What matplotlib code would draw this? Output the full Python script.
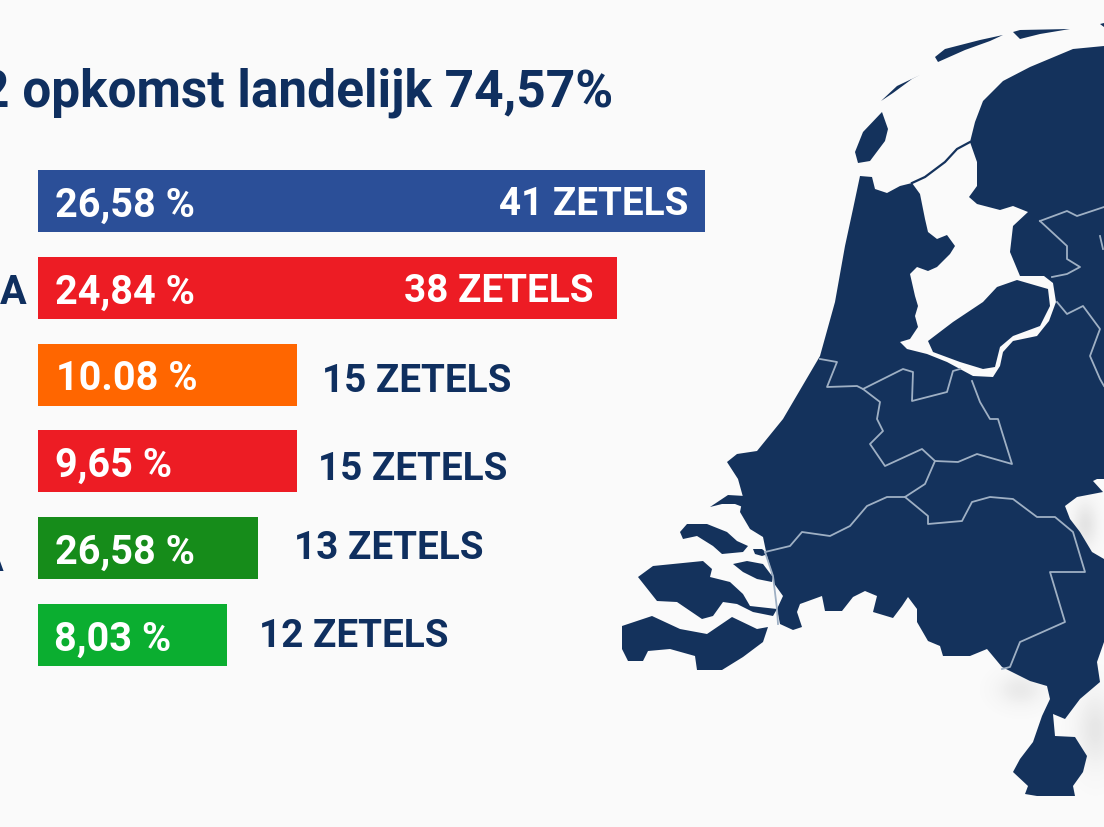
import numpy as np
import matplotlib
matplotlib.use('Agg')
import matplotlib.pyplot as plt
from matplotlib.patches import Polygon

plt.rcParams['font.family'] = ['Roboto', 'DejaVu Sans']

percents = ['26,58 %', '24,84 %', '10.08 %', '9,65 %', '26,58 %', '8,03 %']
seats = ['41 ZETELS', '38 ZETELS', '15 ZETELS', '15 ZETELS', '13 ZETELS', '12 ZETELS']
# bar lengths as measured on the picture, they do not follow the percentages
bar_len = [667, 579, 259, 259, 220, 189]
colors = ['#2b4f98', '#ed1c24', '#ff6600', '#ed1c24', '#168c1a', '#0bae30']
row_y = [201.5, 288.5, 375.5, 461.5, 548.5, 635.5]
pct_x = [55, 55, 56, 55, 55, 54]
seat_x = [688, 594, 322, 318, 294, 259]
seat_y = [201, 288, 378, 466, 545, 633]
seat_ha = ['right', 'right', 'left', 'left', 'left', 'left']
seat_col = ['white', 'white', '#0f2f5f', '#0f2f5f', '#0f2f5f', '#0f2f5f']

NAVY = '#14325c'
LINE = '#9fb0c4'

mainland = [(860,177),(872,178),(875,190),(887,194),(900,187),(912,184),(920,195),(925,220),(928,233),
    (937,240),(947,236),(955,247),(950,255),(937,268),(928,272),(917,268),(910,275),(915,297),(918,307),
    (915,317),(918,328),(910,340),(900,343),(907,350),(927,355),(947,363),(973,377),(993,378),(1000,367),
    (1003,353),(1013,342),(1037,337),(1049,322),(1056,303),(1053,284),(1044,277),(1020,277),(1010,253),
    (1013,227),(1028,213),(1013,207),(1000,211),(977,205),(969,198),(977,187),(977,163),(970,143),(975,123),
    (983,102),(1003,82),(1030,68),(1073,50),(1104,47),(1104,480),(1097,480),(1093,482),(1103,493),(1077,498),
    (1065,507),(1070,520),(1080,533),(1092,553),(1104,560),(1104,643),(1097,663),(1100,683),(1080,700),
    (1065,720),(1053,715),(1055,737),(1075,738),(1087,757),(1083,773),(1073,787),(1075,797),(1037,797),
    (1025,795),(1028,787),(1013,773),(1020,760),(1033,743),(1042,717),(1050,700),(1047,687),(1030,682),
    (1002,668),(987,650),(970,657),(943,657),(940,647),(928,642),(917,623),(917,610),(908,598),(902,607),
    (893,619),(873,613),(877,597),(865,592),(853,598),(842,612),(825,612),(822,597),(800,605),(797,613),
    (802,628),(793,631),(780,625),(777,610),(783,597),(773,583),(770,567),(767,557),(763,538),(750,530),
    (740,513),(743,498),(738,480),(727,463),(737,455),(757,452),(783,420),(820,357),(835,303),(845,247),
    (853,210)]
islands = [
    [(1017,281),(1048,290),(1050,307),(1040,327),(1013,337),(1000,348),(995,368),(983,370),(960,363),(933,353),
     (928,342),(953,323),(983,303),(997,288)],
    [(710,508),(728,496),(745,497),(748,510),(735,505),(722,505)],
    [(680,533),(687,525),(707,525),(727,533),(737,542),(748,547),(743,553),(722,555),(713,547),(697,537),(683,540)],
    [(733,565),(747,562),(763,565),(772,577),(772,583),(757,580),(743,573)],
    [(638,578),(653,567),(703,562),(712,570),(710,578),(730,583),(743,595),(750,607),(777,610),(773,617),(753,613),
     (737,605),(723,603),(713,617),(702,620),(677,603),(657,602)],
    [(622,627),(652,617),(680,630),(707,635),(732,618),(757,630),(768,628),(763,643),(743,658),(722,671),(697,671),
     (695,657),(670,650),(648,652),(643,662),(628,662),(622,650)],
    [(753,550),(762,550),(768,555),(762,557),(755,555)],
    [(882,113),(888,130),(885,142),(870,162),(858,164),(855,153),(863,133)],
    [(881,102),(897,87),(920,76),(912,80),(893,94)],
    [(935,58),(945,50),(980,41),(1003,36),(990,42),(965,51),(938,63)],
    [(1013,33),(1020,31),(1070,30),(1040,35),(1020,40)],
    [(1100,25),(1104,24),(1104,28)],
]
dike = [(912,184),(925,178),(945,163),(957,150),(970,143)]
borders = [
    [(1040,222),(1067,247),(1067,260),(1080,268),(1067,275),(1052,278)],
    [(1040,222),(1067,212),(1077,217),(1104,208)],
    [(1100,237),(1103,250)],
    [(1057,303),(1067,315),(1083,307),(1100,330),(1090,357),(1100,380),(1104,387)],
    [(820,360),(837,363),(827,388),(857,387),(863,390),(903,370),(913,373),(912,402),(947,393),(953,372),(960,370)],
    [(863,390),(880,403),(877,420),(883,432),(870,445),(885,467),(922,450),(935,462),(958,463),(977,455),(1012,465),
     (1002,433),(998,420),(990,420),(980,403),(972,382)],
    [(935,462),(925,485),(905,498),(887,498),(867,507),(850,527),(830,537),(802,533),(790,547),(765,553)],
    [(905,498),(928,517),(928,525),(962,522),(972,503),(990,498),(1013,500),(1037,518),(1055,518),(1073,533),(1085,573),
     (1050,573),(1065,623),(1020,643),(1010,668),(1002,670)],
    [(765,553),(773,577),(777,610),(778,625)],
]

fig = plt.figure(figsize=(11.04, 8.28), dpi=100, facecolor='#fafafa')
ax = fig.add_axes([0, 0, 1, 1])
ax.set_xlim(0, 1104)
ax.set_ylim(828, 0)
ax.axis('off')

# soft grey shadows of the backdrop round the map
xx, yy = np.meshgrid(np.arange(1104), np.arange(828))
shade = np.zeros(xx.shape)
for cx, cy, sx, sy, a in [(1020, 690, 22, 16, .12), (1085, 525, 12, 22, .16), (1095, 730, 18, 35, .14)]:
    shade += a * np.exp(-((xx - cx) / sx) ** 2 - ((yy - cy) / sy) ** 2)
ax.imshow(np.dstack([np.full(xx.shape, .45)] * 3 + [np.clip(shade, 0, 1)]),
          extent=(0, 1104, 828, 0), aspect='auto', zorder=0)

ax.add_patch(Polygon(mainland, closed=True, fc=NAVY, ec='none', zorder=1))
for isl in islands:
    ax.add_patch(Polygon(isl, closed=True, fc=NAVY, ec='none', zorder=1))
ax.plot(*zip(*dike), color=NAVY, lw=1.6, zorder=1)
for b in borders:
    ax.plot(*zip(*b), color=LINE, lw=1.3, zorder=2)

ax.barh(row_y, bar_len, height=62, left=38, color=colors, zorder=3)

for i in range(len(percents)):
    ax.text(pct_x[i], row_y[i], percents[i], color='white', fontsize=28.5, fontweight='bold',
            ha='left', va='center_baseline', zorder=4)
    ax.text(seat_x[i], seat_y[i], seats[i], color=seat_col[i], fontsize=27.8, fontweight='bold',
            ha=seat_ha[i], va='center_baseline', zorder=4)

ax.text(613, 87, '2 opkomst landelijk 74,57%', color='#0f2f5f', fontsize=37, fontweight='bold',
        ha='right', va='center_baseline', zorder=4)
ax.text(26, 289, 'A', color='#0f2f5f', fontsize=28.5, fontweight='bold',
        ha='right', va='center_baseline', zorder=4)
ax.text(3, 556, 'A', color='#0f2f5f', fontsize=28.5, fontweight='bold',
        ha='right', va='center_baseline', zorder=4)

fig.savefig('out.png', dpi=100, facecolor=fig.get_facecolor())
